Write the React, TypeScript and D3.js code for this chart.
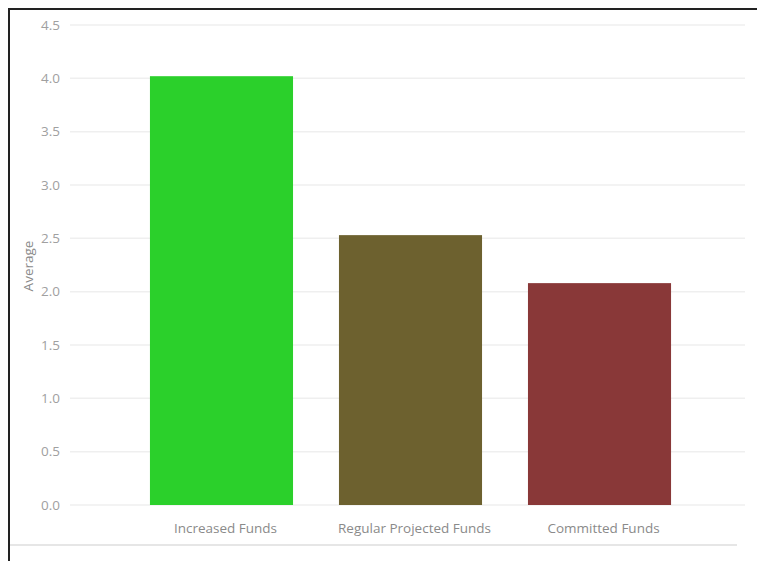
import React from "react";
import * as d3 from "d3";

const categories = ["Increased Funds", "Regular Projected Funds", "Committed Funds"];
const values = [4.02, 2.53, 2.08];
const colors = ["#2bd02b", "#6d612f", "#893838"];
const yTicks = [0, 0.5, 1.0, 1.5, 2.0, 2.5, 3.0, 3.5, 4.0, 4.5];

const W = 757;
const H = 561;

export default function App() {
  const y = d3.scaleLinear().domain([0, 4.5]).range([505, 25]);
  const x = d3
    .scaleBand<string>()
    .domain(categories)
    .range([70, 751])
    .paddingInner(0.243)
    .paddingOuter(0.423);
  const font = "'Open Sans', 'Noto Sans', sans-serif";
  return (
    <svg
      width={W}
      height={H}
      style={{ position: "absolute", left: 0, top: 0, background: "#fff" }}
    >
      {yTicks.map((t) => (
        <g key={t}>
          <line x1={70} x2={745} y1={y(t)} y2={y(t)} stroke="#efefef" strokeWidth={1.5} />
          <text
            x={60}
            y={y(t)}
            dy="0.35em"
            textAnchor="end"
            fontSize={13.5}
            fill="#a0a0a0"
            fontFamily={font}
          >
            {t.toFixed(1)}
          </text>
        </g>
      ))}
      {categories.map((c, i) => (
        <g key={c}>
          <rect
            x={x(c)}
            y={y(values[i])}
            width={x.bandwidth()}
            height={y(0) - y(values[i])}
            fill={colors[i]}
          />
          <text
            x={(x(c) as number) + x.bandwidth() / 2 + 4}
            y={528}
            dy="0.35em"
            textAnchor="middle"
            fontSize={13.5}
            fill="#8a8a8a"
            fontFamily={font}
          >
            {c}
          </text>
        </g>
      ))}
      <text
        transform="translate(28,266) rotate(-90)"
        textAnchor="middle"
        dy="0.35em"
        fontSize={13.5}
        fill="#8a8a8a"
        fontFamily={font}
      >
        Average
      </text>
      <line x1={10} x2={737} y1={545} y2={545} stroke="#dedede" strokeWidth={1.5} />
      <line x1={8} x2={757} y1={9} y2={9} stroke="#222" strokeWidth={2} />
      <line x1={9} x2={9} y1={8} y2={561} stroke="#222" strokeWidth={2} />
    </svg>
  );
}
